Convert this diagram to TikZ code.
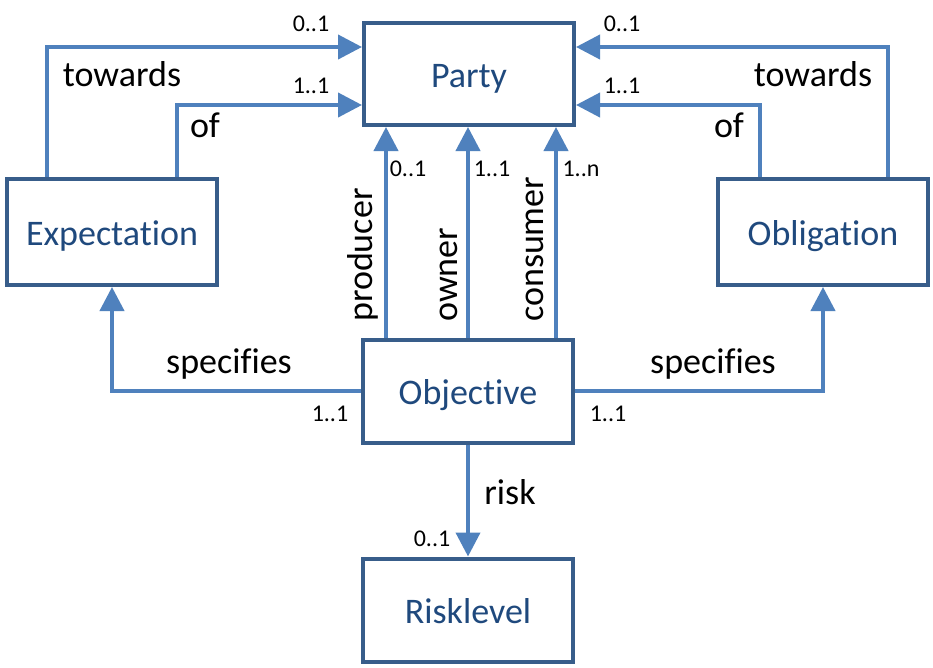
\documentclass[tikz,border=0pt]{standalone}
\usepackage{fontspec}
\setmainfont{Carlito}[Ligatures=NoCommon]
\usetikzlibrary{arrows.meta}
\definecolor{boxline}{HTML}{385D8A}
\definecolor{boxtext}{HTML}{1F497D}
\definecolor{conn}{HTML}{4F81BD}
\begin{document}
\begin{tikzpicture}[x=1pt,y=-1pt,
  cls/.style={draw=boxline, line width=4pt, fill=white, minimum width=210pt,
    minimum height=102pt, inner sep=0pt, text height=26pt, text depth=0pt,
    text=boxtext, font=\fontsize{36}{40}\selectfont},
  arr/.style={draw=conn, line width=4pt, -{Triangle[length=24pt,width=24pt]}},
  lbl/.style={font=\fontsize{36}{40}\selectfont, inner sep=0pt, anchor=base},
  mult/.style={font=\fontsize{24}{28}\selectfont, inner sep=0pt, anchor=base}]
\useasboundingbox (0,0) rectangle (933,667);
\fill[white] (0,0) rectangle (933,667);

\node[cls] (Party) at (469,74) {Party};
\node[cls, minimum height=106pt] (Expectation) at (112,232) {Expectation};
\node[cls, minimum height=106pt] (Obligation) at (823,232) {Obligation};
\node[cls, minimum height=103pt] (Objective) at (468,391) {Objective};
\node[cls, minimum height=103pt] (Risklevel) at (468,610) {Risklevel};

\draw[arr] ([xshift=-65pt]Expectation.north) |- ([yshift=27pt]Party.west);
\draw[arr] ([xshift=65pt]Expectation.north) |- ([yshift=-31pt]Party.west);
\draw[arr] ([xshift=65pt]Obligation.north) |- ([yshift=27pt]Party.east);
\draw[arr] ([xshift=-63pt]Obligation.north) |- ([yshift=-31pt]Party.east);

\coordinate (p1) at ([xshift=-82pt]Objective.north);
\coordinate (p2) at (Objective.north);
\coordinate (p3) at ([xshift=88pt]Objective.north);
\draw[arr] (p1) -- (p1 |- Party.south);
\draw[arr] (p2) -- (p2 |- Party.south);
\draw[arr] (p3) -- (p3 |- Party.south);

\draw[arr] (Objective.west) -| (Expectation.south);
\draw[arr] (Objective.east) -| (Obligation.south);
\draw[arr] (Objective.south) -- (Risklevel.north);

\node[lbl] (tw1) at (122,86) {towards};
\node[lbl] (of1) at (205,137) {of};
\node[mult] (m1) at (311,31) {0..1};
\node[mult] (m2) at (311,93) {1..1};
\node[mult] (m3) at (622,31) {0..1};
\node[mult] (m4) at (622,93) {1..1};
\node[lbl] (tw2) at (813,86) {towards};
\node[lbl] (of2) at (729,137) {of};

\node[mult] (m5) at (408,176) {0..1};
\node[mult] (m6) at (492,176) {1..1};
\node[mult] (m7) at (581,176) {1..n};
\node[lbl, rotate=90, anchor=base west] (prod) at (372,322) {producer};
\node[lbl, rotate=90, anchor=base west] (own) at (457,322) {owner};
\node[lbl, rotate=90, anchor=base west] (cons) at (543,322) {consumer};

\node[lbl] (sp1) at (229,373) {specifies};
\node[lbl] (sp2) at (713,373) {specifies};
\node[mult] (m8) at (330,421) {1..1};
\node[mult] (m9) at (608,421) {1..1};
\node[lbl] (risk) at (510,504) {risk};
\node[mult] (m10) at (432,546) {0..1};
\end{tikzpicture}
\end{document}
